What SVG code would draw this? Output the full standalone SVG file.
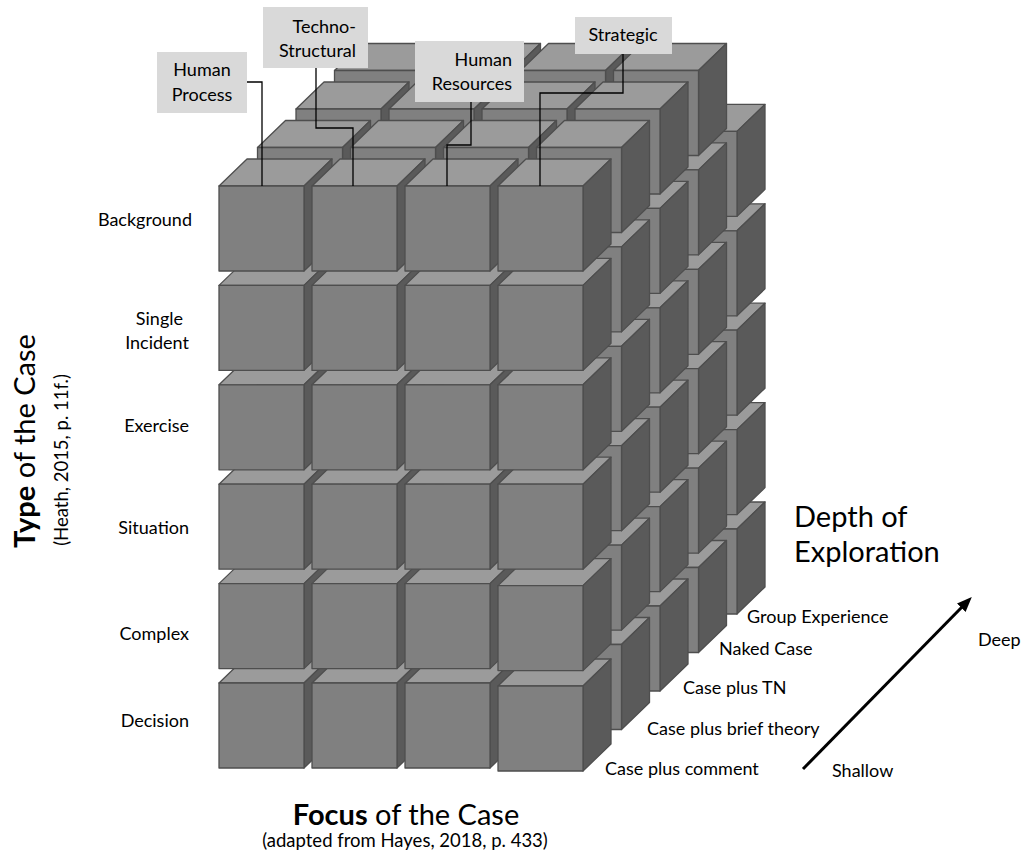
<svg xmlns="http://www.w3.org/2000/svg" width="1022" height="858" viewBox="0 0 1022 858">
  <style>
    .face { stroke: #4e4e4e; stroke-width: 1.3; stroke-linejoin: round; }
    .front { fill: #808080; }
    .top { fill: #9b9b9b; }
    .side { fill: #5a5a5a; }
    text { font-family: Lato, "Open Sans", "Liberation Sans", sans-serif; fill: #000; }
    .lbl { font-size: 18px; }
    .big { font-size: 29px; }
    .small { font-size: 18.5px; }
    .tag { fill: #d9d9d9; }
    .link { fill: none; stroke: #000; stroke-width: 1.3; }
    .axis { fill: none; stroke: #000; stroke-width: 3; }
  </style>
  <defs>
    <!-- one cube, origin at the top-left corner of its front face -->
    <g id="cube">
      <polygon class="face top" points="0,0 28,-27 113,-27 85,0"/>
      <polygon class="face side" points="85,0 113,-27 113,58 85,85"/>
      <rect class="face front" x="0" y="0" width="85" height="85"/>
    </g>
    <marker id="head" viewBox="0 0 15 12" refX="1" refY="6" markerWidth="15" markerHeight="12" markerUnits="userSpaceOnUse" orient="auto">
      <path d="M0,0 L15,6 L0,12 z" fill="#000"/>
    </marker>
  </defs>

  <!-- cube block: deepest layer first, bottom rows first, left columns first -->
  <g id="cubes">
    <g id="layer-group-experience" transform="translate(154,-154)">
      <g transform="translate(0,683)"><use id="k4r5c0" href="#cube" x="219"/><use id="k4r5c1" href="#cube" x="312"/><use id="k4r5c2" href="#cube" x="405"/><use id="k4r5c3" href="#cube" x="498"/></g>
      <g transform="translate(0,583.6)"><use id="k4r4c0" href="#cube" x="219"/><use id="k4r4c1" href="#cube" x="312"/><use id="k4r4c2" href="#cube" x="405"/><use id="k4r4c3" href="#cube" x="498"/></g>
      <g transform="translate(0,484.2)"><use id="k4r3c0" href="#cube" x="219"/><use id="k4r3c1" href="#cube" x="312"/><use id="k4r3c2" href="#cube" x="405"/><use id="k4r3c3" href="#cube" x="498"/></g>
      <g transform="translate(0,384.8)"><use id="k4r2c0" href="#cube" x="219"/><use id="k4r2c1" href="#cube" x="312"/><use id="k4r2c2" href="#cube" x="405"/><use id="k4r2c3" href="#cube" x="498"/></g>
      <g transform="translate(0,285.4)"><use id="k4r1c0" href="#cube" x="219"/><use id="k4r1c1" href="#cube" x="312"/><use id="k4r1c2" href="#cube" x="405"/><use id="k4r1c3" href="#cube" x="498"/></g>
    </g>
    <g id="layer-naked-case" transform="translate(115.5,-115.5)">
      <g transform="translate(0,683)"><use id="k3r5c0" href="#cube" x="219"/><use id="k3r5c1" href="#cube" x="312"/><use id="k3r5c2" href="#cube" x="405"/><use id="k3r5c3" href="#cube" x="498"/></g>
      <g transform="translate(0,583.6)"><use id="k3r4c0" href="#cube" x="219"/><use id="k3r4c1" href="#cube" x="312"/><use id="k3r4c2" href="#cube" x="405"/><use id="k3r4c3" href="#cube" x="498"/></g>
      <g transform="translate(0,484.2)"><use id="k3r3c0" href="#cube" x="219"/><use id="k3r3c1" href="#cube" x="312"/><use id="k3r3c2" href="#cube" x="405"/><use id="k3r3c3" href="#cube" x="498"/></g>
      <g transform="translate(0,384.8)"><use id="k3r2c0" href="#cube" x="219"/><use id="k3r2c1" href="#cube" x="312"/><use id="k3r2c2" href="#cube" x="405"/><use id="k3r2c3" href="#cube" x="498"/></g>
      <g transform="translate(0,285.4)"><use id="k3r1c0" href="#cube" x="219"/><use id="k3r1c1" href="#cube" x="312"/><use id="k3r1c2" href="#cube" x="405"/><use id="k3r1c3" href="#cube" x="498"/></g>
      <g transform="translate(0,186)"><use id="k3r0c0" href="#cube" x="219"/><use id="k3r0c1" href="#cube" x="312"/><use id="k3r0c2" href="#cube" x="405"/><use id="k3r0c3" href="#cube" x="498"/></g>
    </g>
    <g id="layer-case-plus-tn" transform="translate(77,-77)">
      <g transform="translate(0,683)"><use id="k2r5c0" href="#cube" x="219"/><use id="k2r5c1" href="#cube" x="312"/><use id="k2r5c2" href="#cube" x="405"/><use id="k2r5c3" href="#cube" x="498"/></g>
      <g transform="translate(0,583.6)"><use id="k2r4c0" href="#cube" x="219"/><use id="k2r4c1" href="#cube" x="312"/><use id="k2r4c2" href="#cube" x="405"/><use id="k2r4c3" href="#cube" x="498"/></g>
      <g transform="translate(0,484.2)"><use id="k2r3c0" href="#cube" x="219"/><use id="k2r3c1" href="#cube" x="312"/><use id="k2r3c2" href="#cube" x="405"/><use id="k2r3c3" href="#cube" x="498"/></g>
      <g transform="translate(0,384.8)"><use id="k2r2c0" href="#cube" x="219"/><use id="k2r2c1" href="#cube" x="312"/><use id="k2r2c2" href="#cube" x="405"/><use id="k2r2c3" href="#cube" x="498"/></g>
      <g transform="translate(0,285.4)"><use id="k2r1c0" href="#cube" x="219"/><use id="k2r1c1" href="#cube" x="312"/><use id="k2r1c2" href="#cube" x="405"/><use id="k2r1c3" href="#cube" x="498"/></g>
      <g transform="translate(0,186)"><use id="k2r0c0" href="#cube" x="219"/><use id="k2r0c1" href="#cube" x="312"/><use id="k2r0c2" href="#cube" x="405"/><use id="k2r0c3" href="#cube" x="498"/></g>
    </g>
    <g id="layer-brief-theory" transform="translate(38.5,-38.5)">
      <g transform="translate(0,683)"><use id="k1r5c0" href="#cube" x="219"/><use id="k1r5c1" href="#cube" x="312"/><use id="k1r5c2" href="#cube" x="405"/><use id="k1r5c3" href="#cube" x="498"/></g>
      <g transform="translate(0,583.6)"><use id="k1r4c0" href="#cube" x="219"/><use id="k1r4c1" href="#cube" x="312"/><use id="k1r4c2" href="#cube" x="405"/><use id="k1r4c3" href="#cube" x="498"/></g>
      <g transform="translate(0,484.2)"><use id="k1r3c0" href="#cube" x="219"/><use id="k1r3c1" href="#cube" x="312"/><use id="k1r3c2" href="#cube" x="405"/><use id="k1r3c3" href="#cube" x="498"/></g>
      <g transform="translate(0,384.8)"><use id="k1r2c0" href="#cube" x="219"/><use id="k1r2c1" href="#cube" x="312"/><use id="k1r2c2" href="#cube" x="405"/><use id="k1r2c3" href="#cube" x="498"/></g>
      <g transform="translate(0,285.4)"><use id="k1r1c0" href="#cube" x="219"/><use id="k1r1c1" href="#cube" x="312"/><use id="k1r1c2" href="#cube" x="405"/><use id="k1r1c3" href="#cube" x="498"/></g>
      <g transform="translate(0,186)"><use id="k1r0c0" href="#cube" x="219"/><use id="k1r0c1" href="#cube" x="312"/><use id="k1r0c2" href="#cube" x="405"/><use id="k1r0c3" href="#cube" x="498"/></g>
    </g>
    <g id="layer-comment">
      <g transform="translate(0,683)"><use id="k0r5c0" href="#cube" x="219"/><use id="k0r5c1" href="#cube" x="312"/><use id="k0r5c2" href="#cube" x="405"/><use id="k0r5c3" href="#cube" x="498" y="3"/></g>
      <g transform="translate(0,583.6)"><use id="k0r4c0" href="#cube" x="219"/><use id="k0r4c1" href="#cube" x="312"/><use id="k0r4c2" href="#cube" x="405"/><use id="k0r4c3" href="#cube" x="498" y="2"/></g>
      <g transform="translate(0,484.2)"><use id="k0r3c0" href="#cube" x="219"/><use id="k0r3c1" href="#cube" x="312"/><use id="k0r3c2" href="#cube" x="405"/><use id="k0r3c3" href="#cube" x="498"/></g>
      <g transform="translate(0,384.8)"><use id="k0r2c0" href="#cube" x="219"/><use id="k0r2c1" href="#cube" x="312"/><use id="k0r2c2" href="#cube" x="405"/><use id="k0r2c3" href="#cube" x="498"/></g>
      <g transform="translate(0,285.4)"><use id="k0r1c0" href="#cube" x="219"/><use id="k0r1c1" href="#cube" x="312"/><use id="k0r1c2" href="#cube" x="405"/><use id="k0r1c3" href="#cube" x="498"/></g>
      <g transform="translate(0,186)"><use id="k0r0c0" href="#cube" x="219"/><use id="k0r0c1" href="#cube" x="312"/><use id="k0r0c2" href="#cube" x="405"/><use id="k0r0c3" href="#cube" x="498"/></g>
    </g>
  </g>

  <!-- leader lines from the focus tags to the front column tops -->
  <g id="connectors">
    <path class="link" d="M247,82 H262 V186"/>
    <path class="link" d="M316,68 V128 H353 V186"/>
    <path class="link" d="M471,102 V145 H447 V186"/>
    <path class="link" d="M623,54 V93 H540 V186"/>
    <path class="axis" d="M803,769 L962,607" marker-end="url(#head)"/>
  </g>

  <!-- focus tags -->
  <g id="tag-human-process">
    <rect class="tag" x="157" y="52" width="90" height="61"/>
    <text class="lbl" x="202" y="76" text-anchor="middle">Human</text>
    <text class="lbl" x="202" y="101" text-anchor="middle">Process</text>
  </g>
  <g id="tag-techno-structural">
    <rect class="tag" x="263" y="7" width="105" height="61"/>
    <text class="lbl" x="356" y="33" text-anchor="end">Techno-</text>
    <text class="lbl" x="356" y="57" text-anchor="end">Structural</text>
  </g>
  <g id="tag-human-resources">
    <rect class="tag" x="415" y="41" width="109" height="61"/>
    <text class="lbl" x="512" y="66" text-anchor="end">Human</text>
    <text class="lbl" x="512" y="90" text-anchor="end">Resources</text>
  </g>
  <g id="tag-strategic">
    <rect class="tag" x="575" y="17" width="97" height="37"/>
    <text class="lbl" x="623" y="41" text-anchor="middle">Strategic</text>
  </g>

  <!-- case types -->
  <g id="types">
    <text class="lbl" x="192" y="226" text-anchor="end">Background</text>
    <text class="lbl" x="183" y="325" text-anchor="end">Single</text>
    <text class="lbl" x="189" y="349" text-anchor="end">Incident</text>
    <text class="lbl" x="189" y="432" text-anchor="end">Exercise</text>
    <text class="lbl" x="189" y="534" text-anchor="end">Situation</text>
    <text class="lbl" x="189" y="640" text-anchor="end">Complex</text>
    <text class="lbl" x="189" y="727" text-anchor="end">Decision</text>
  </g>

  <!-- depth levels -->
  <g id="depths">
    <text class="lbl" x="605" y="775">Case plus comment</text>
    <text class="lbl" x="647" y="735">Case plus brief theory</text>
    <text class="lbl" x="683" y="694">Case plus TN</text>
    <text class="lbl" x="719" y="655">Naked Case</text>
    <text class="lbl" x="747" y="623">Group Experience</text>
    <text class="lbl" x="978" y="646">Deep</text>
    <text class="lbl" x="832" y="777">Shallow</text>
  </g>

  <!-- axis titles -->
  <g id="axis-depth">
    <text class="big" x="794" y="527">Depth of</text>
    <text class="big" x="794" y="562">Exploration</text>
  </g>
  <g id="axis-focus">
    <text class="big" x="406" y="825" text-anchor="middle"><tspan font-weight="bold">Focus</tspan> of the Case</text>
    <text class="small" x="405" y="847" text-anchor="middle">(adapted from Hayes, 2018, p. 433)</text>
  </g>
  <g id="axis-type">
    <text class="big" transform="translate(35,441) rotate(-90)" text-anchor="middle"><tspan font-weight="bold">Type</tspan> of the Case</text>
    <text class="small" transform="translate(68,460) rotate(-90)" text-anchor="middle">(Heath, 2015, p. 11f.)</text>
  </g>
</svg>
